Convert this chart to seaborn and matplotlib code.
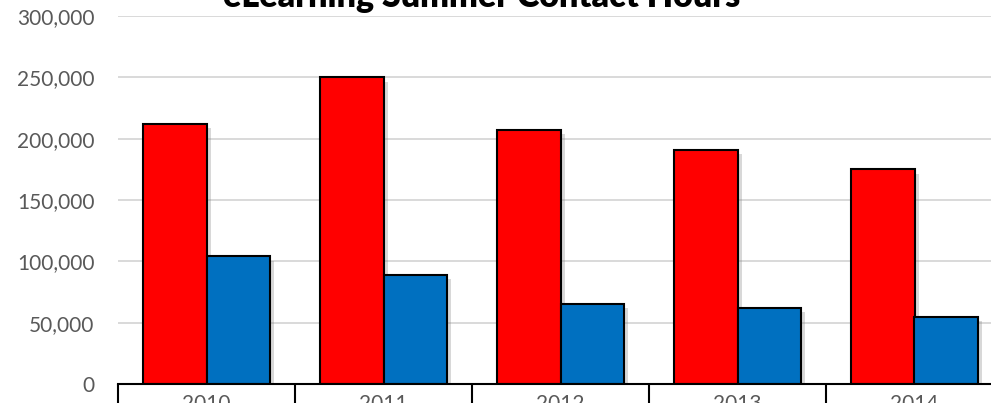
import matplotlib
matplotlib.use('Agg')
import matplotlib.pyplot as plt
import matplotlib.patheffects as pe
from matplotlib.ticker import FuncFormatter, FixedLocator
import pandas as pd
import seaborn as sns

# data
years = ['2010', '2011', '2012', '2013', '2014']
series_names = ['Red', 'Blue']
red_hours = [212000, 250000, 207000, 191000, 175000]
blue_hours = [104000, 89000, 65500, 62000, 54500]
ytick_values = [0, 50000, 100000, 150000, 200000, 250000, 300000]

df = pd.DataFrame({
    'year': years * 2,
    'series': [series_names[0]] * len(years) + [series_names[1]] * len(years),
    'hours': red_hours + blue_hours,
})

sns.set_theme(style='white')
plt.rcParams['font.family'] = ['Lato', 'DejaVu Sans']

fig = plt.figure(figsize=(9.91, 4.03), dpi=100)
ax = fig.add_axes([118 / 991, 1 - 384 / 403, 885 / 991, 368 / 403])

sns.barplot(data=df, x='year', y='hours', hue='series',
            palette=['#FF0000', '#0070C0'], width=0.72,
            edgecolor='black', linewidth=1.5, saturation=1,
            legend=False, ax=ax)

# Excel-like drop shadow on the bars
for p in ax.patches:
    p.set_path_effects([pe.SimplePatchShadow(offset=(3, -3), shadow_rgbFace='#808080', alpha=0.3),
                        pe.Normal()])

ax.set_ylim(0, 300000)
ax.set_xlim(-0.5, 4.5)
ax.set_yticks(ytick_values)
ax.yaxis.set_major_formatter(FuncFormatter(lambda v, _: '{:,.0f}'.format(v)))
ax.grid(axis='y', color='#d9d9d9', linewidth=1.4)
ax.set_axisbelow(True)

# category boundaries as long ticks, labels centred in between
ax.xaxis.set_major_locator(FixedLocator([-0.5, 0.5, 1.5, 2.5, 3.5, 4.5]))
ax.xaxis.set_minor_locator(FixedLocator(range(len(years))))
ax.set_xticklabels([])
ax.set_xticklabels(years, minor=True)
ax.tick_params(axis='x', which='major', bottom=True, length=20, width=1.5, color='black', direction='out')
ax.tick_params(axis='x', which='minor', bottom=True, length=0, pad=7, labelsize=15, labelcolor='#595959')
ax.tick_params(axis='y', length=0, pad=17, labelsize=15, labelcolor='#595959')

for s in ['left', 'top', 'right']:
    ax.spines[s].set_visible(False)
ax.spines['bottom'].set_color('black')
ax.spines['bottom'].set_linewidth(1.5)

ax.set_xlabel('')
ax.set_ylabel('')

fig.text(482 / 991, 1 - 7 / 403, 'eLearning Summer Contact Hours', ha='center', va='baseline',
         fontsize=24.5, fontweight='heavy', color='black')

fig.savefig('out.png', dpi=100)
